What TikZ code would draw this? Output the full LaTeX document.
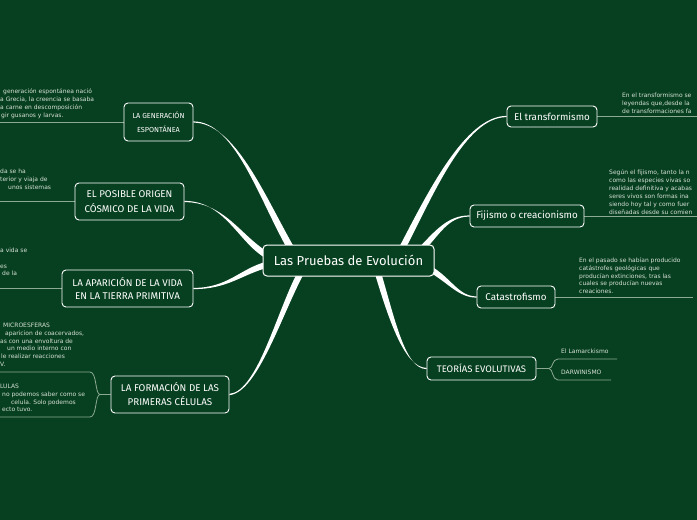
\documentclass[tikz,border=0pt]{standalone}
\usepackage{fontspec}
\setmainfont{DejaVu Sans}
\newfontfamily\titlefont{Fira Sans}
\newfontfamily\leaffont{DejaVu Sans}
\usetikzlibrary{calc}
\definecolor{bg}{RGB}{7,64,32}
\definecolor{leafline}{RGB}{140,170,145}
\definecolor{leaftext}{RGB}{215,225,215}
\pgfdeclarelayer{background}
\pgfsetlayers{background,main}
\newcommand\taper[6]{\fill[white] ($#1+#5$) .. controls ($#2+#5$) and ($#3+#6$) .. ($#4+#6$) -- ($#4-#6$) .. controls ($#3-#6$) and ($#2-#5$) .. ($#1-#5$) -- cycle;}
\newcommand\leaflines[1]{\begin{tabular}{@{}l@{}}#1\end{tabular}}
\newcommand\ind[1]{\rule{#1}{0pt}}
\begin{document}
\begin{tikzpicture}[x=1pt,y=-1pt,
 topic/.style={draw=white, line width=0.9pt, rounded corners=4pt, fill=bg, text=white, align=center, inner sep=0pt},
 capsfont/.style={font=\titlefont\fontsize{9.8}{14}\selectfont},
 lowfont/.style={font=\titlefont\fontsize{9.8}{11}\selectfont},
 leaf/.style={font=\leaffont\fontsize{6}{7.9}\selectfont, text=leaftext, inner sep=0pt, anchor=north west},
 lline/.style={draw=leafline, line width=0.8pt}]
\useasboundingbox (0,0) rectangle (697,520);

% central topic
\node[topic, minimum width=171pt, minimum height=31pt, line width=1pt, font=\titlefont\fontsize{13}{15}\selectfont] (ctr) at (348.5,260.5) {Las Pruebas de Evolución};

% left branches
\node[topic, minimum width=69pt, minimum height=38pt, font=\titlefont\fontsize{7.3}{14}\selectfont] (gen) at (158.5,122) {LA GENERACIÓN\\ESPONTÁNEA};
\node[topic, minimum width=109pt, minimum height=37pt, font=\titlefont\fontsize{9.8}{15}\selectfont] (cos) at (129.5,201.5) {EL POSIBLE ORIGEN\\CÓSMICO DE LA VIDA};
\node[topic, minimum width=131pt, minimum height=37pt, font=\titlefont\fontsize{9.8}{13.5}\selectfont] (apa) at (127.5,288.5) {LA APARICIÓN DE LA VIDA\\EN LA TIERRA PRIMITIVA};
\node[topic, capsfont, minimum width=118pt, minimum height=37pt] (for) at (170,394.5) {LA FORMACIÓN DE LAS\\PRIMERAS CÉLULAS};

% right branches
\node[topic, lowfont, minimum width=90pt, minimum height=21pt] (tra) at (552,116.5) {El transformismo};
\node[topic, lowfont, minimum width=114pt, minimum height=22pt] (fij) at (527,216) {Fijismo o creacionismo};
\node[topic, lowfont, minimum width=78pt, minimum height=22pt] (cat) at (516,297) {Catastrofismo};
\node[topic, minimum width=109pt, minimum height=23pt, font=\titlefont\fontsize{9.5}{11}\selectfont] (teo) at (481.5,368.5) {TEORÍAS EVOLUTIVAS};

% attachment points on the central topic
\coordinate (e1) at ($(ctr.north west)+(29,5)$);
\coordinate (e2) at ($(ctr.north west)+(5,11)$);
\coordinate (e3) at ($(ctr.north west)+(5,20)$);
\coordinate (e4) at ($(ctr.north west)+(40,25)$);
\coordinate (e5) at ($(ctr.north west)+(139,5)$);
\coordinate (e6) at ($(ctr.north west)+(157,7)$);
\coordinate (e7) at ($(ctr.north west)+(165,23)$);
\coordinate (e8) at ($(ctr.north west)+(115,27)$);

% leaf line free ends
\coordinate (genL) at (0,122);
\coordinate (cosL) at (0,201.5);
\coordinate (apaL) at (0,288.5);
\coordinate (forB) at (100,394.5);
\coordinate (micL) at (0,372);
\coordinate (celL) at (0,417);
\coordinate (traR) at (697,116.5);
\coordinate (fijR) at (697,216);
\coordinate (catR) at (693,297);
\coordinate (teoB) at (549,368.5);
\coordinate (lamR) at (617,359);
\coordinate (darR) at (611,380);

\begin{pgfonlayer}{background}
\fill[bg] (0,0) rectangle (697,520);
% main connectors (tapered)
\taper{(gen.east)}{(235,122)}{(262,198)}{(e1)}{(0,0.6)}{(2.9,-1.7)}
\taper{(cos.east)}{(225,201.5)}{(240,240)}{(e2)}{(0,0.6)}{(1.6,-2.8)}
\taper{(apa.east)}{(228,288.5)}{(240,272)}{(e3)}{(0,0.6)}{(0.7,3)}
\taper{(for.east)}{(258,392)}{(280,310)}{(e4)}{(0,0.6)}{(2.7,1.6)}
\taper{(tra.west)}{(465,116.5)}{(430,195)}{(e5)}{(0,0.6)}{(2.8,1.4)}
\taper{(fij.west)}{(448,216)}{(438,232)}{(e6)}{(0,0.6)}{(2.2,2)}
\taper{(cat.west)}{(458,297)}{(450,280)}{(e7)}{(0,0.6)}{(-1.4,2.6)}
\taper{(teo.west)}{(405,368.5)}{(392,320)}{(e8)}{(0,0.6)}{(3,-0.8)}
% leaf lines
\draw[lline] (gen.west) -- (genL);
\draw[lline] (cos.west) -- (cosL);
\draw[lline] (apa.west) -- (apaL);
\draw[lline] (for.west) -- (forB) .. controls (95,394.5) and (97,372) .. (90,372) -- (micL);
\draw[lline] (forB) .. controls (95,394.5) and (97,417) .. (90,417) -- (celL);
\draw[lline] (tra.east) -- (traR);
\draw[lline] (fij.east) -- (fijR);
\draw[lline] (cat.east) -- (catR);
\draw[lline] (teo.east) -- (teoB) .. controls (553,368.5) and (552,359) .. (558,359) -- (lamR);
\draw[lline] (teoB) .. controls (553,368.5) and (552,380) .. (558,380) -- (darR);
\end{pgfonlayer}

% leaf texts
\node[leaf] (tgen) at (0,88) {\leaflines{\ind{3pt}generación espontánea nació\\a Grecia, la creencia se basaba\\a carne en descomposición\\\ind{1pt}gir gusanos y larvas.}};
\node[leaf] (tcos) at (0,168) {\leaflines{da se ha\\terior y viaja de\\\ind{8pt}unos sistemas}};
\node[leaf] (tapa) at (0,246.5) {\leaflines{a vida se\\\\es\\\ind{2pt}de la}};
\node[leaf] (tmic) at (0,321.5) {\leaflines{\ind{3pt}MICROESFERAS\\\ind{5pt}aparicion de coacervados,\\as con una envoltura de\\\ind{7pt}un medio interno con\\\ind{1pt}le realizar reacciones\\V.}};
\node[leaf] (tcel) at (0,382.5) {\leaflines{LULAS\\\ind{2pt}no podemos saber como se\\\ind{11pt}celula. Solo podemos\\\ind{2pt}ecto tuvo.}};
\node[leaf] (ttra) at (622,91.5) {\leaflines{En el transformismo se\\leyendas que,desde la\\de transformaciones fa}};
\node[leaf] (tfij) at (609,169) {\leaflines{Según el fijismo, tanto la n\\como las especies vivas so\\realidad definitiva y acabas\\seres vivos son formas ina\\siendo hoy tal y como fuer\\diseñadas desde su comien}};
\node[leaf] (tcat) at (579,256.5) {\leaflines{En el pasado se habían producido\\catástrofes geológicas que\\producían extinciones, tras las\\cuales se producían nuevas\\creaciones.}};
\node[leaf] (tlam) at (561,348.5) {El Lamarckismo};
\node[leaf] (tdar) at (561,370) {DARWINISMO};
\end{tikzpicture}
\end{document}
